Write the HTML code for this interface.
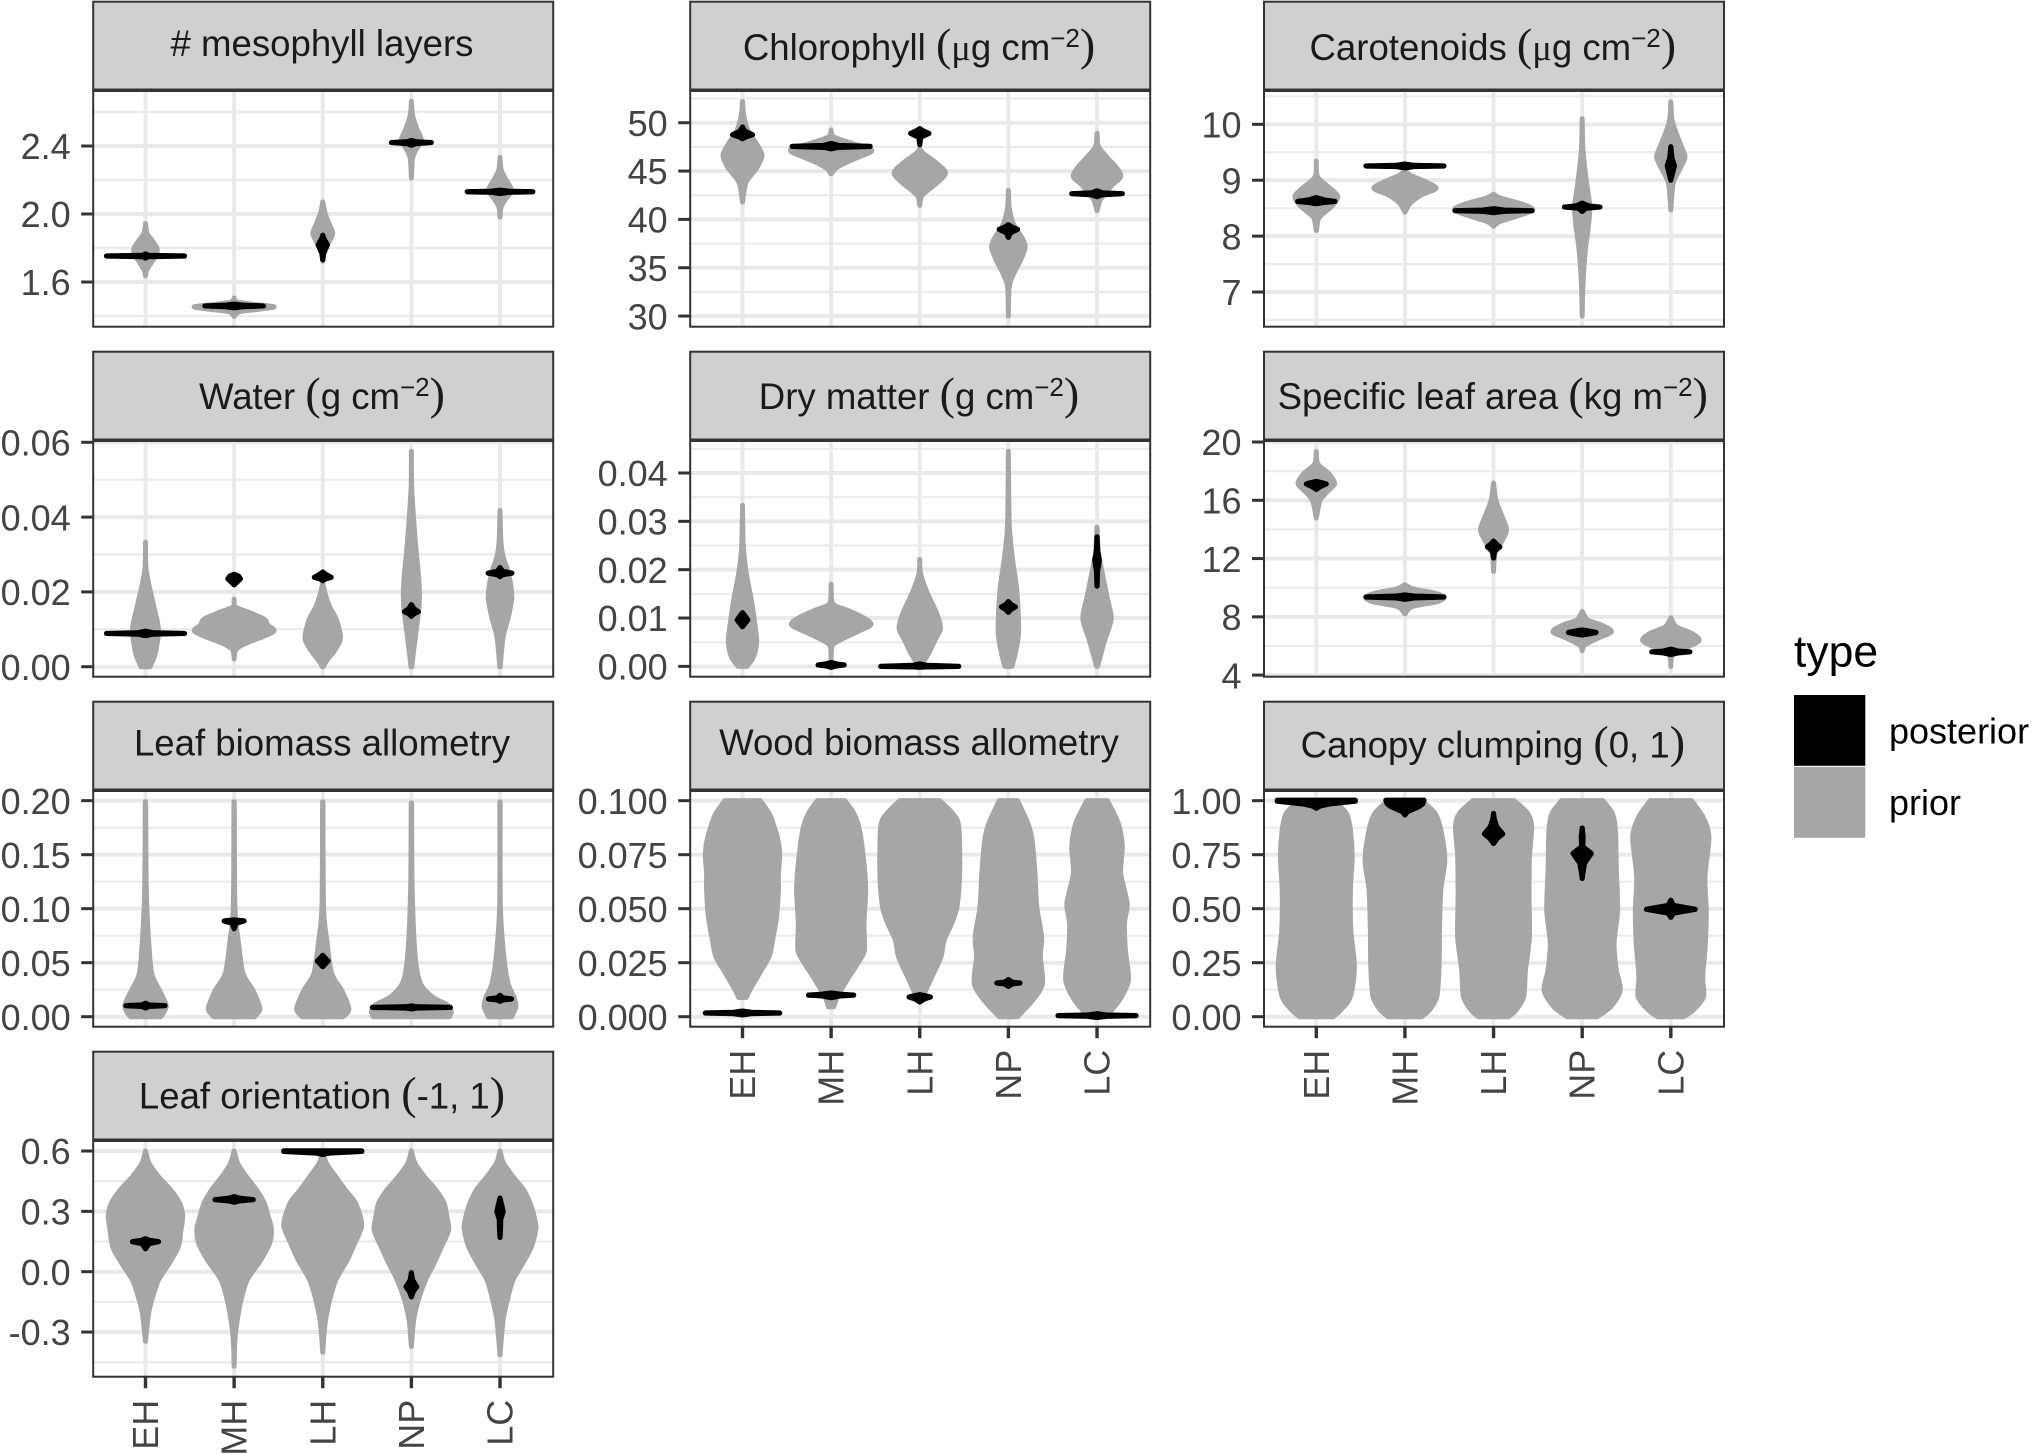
<!DOCTYPE html>
<html lang="en">
<head>
<meta charset="utf-8">
<title>Prior and posterior violins by plant type</title>
<style>
html,body{margin:0;padding:0;background:#fff;width:2032px;height:1454px;overflow:hidden}
svg{display:block;font-family:"Liberation Sans",Arial,sans-serif}
</style>
</head>
<body>
<svg id="chart" xmlns="http://www.w3.org/2000/svg" width="2032" height="1454" viewBox="0 0 2032 1454">
  <g>
    <text transform="translate(1794,666.5)" font-size="44.5" fill="#000">type</text>
    <rect x="1794" y="695" width="71.3" height="70.8" fill="#000"/>
    <rect x="1794" y="767" width="71.3" height="70.8" fill="#a6a6a6"/>
    <text transform="translate(1889,743.5)" font-size="36" fill="#000">posterior</text>
    <text transform="translate(1889,815.2)" font-size="36" fill="#000">prior</text>
  </g>
</svg>
<script>
const categories = ['EH','MH','LH','NP','LC'];

const mesoDomain = [1.337, 2.7235];
const mesoBreaks = [1.6, 2.0, 2.4];
const mesoLabels = ['1.6','2.0','2.4'];
const mesoPrior = [
  [[1.943,0],[1.886,.017],[1.847,.07],[1.798,.13],[1.76,.12],[1.71,.06],[1.671,.015],[1.637,0]],
  [[1.506,0],[1.484,.03],[1.469,.2],[1.455,.45],[1.441,.3],[1.425,.06],[1.398,0]],
  [[2.071,0],[2.004,.026],[1.945,.07],[1.886,.112],[1.837,.07],[1.788,.013],[1.722,0]],
  [[2.663,0],[2.582,.013],[2.504,.06],[2.435,.112],[2.376,.05],[2.327,.013],[2.212,0]],
  [[2.333,0],[2.259,.013],[2.2,.07],[2.141,.13],[2.092,.07],[2.043,.013],[1.982,0]]
];
const mesoPosterior = [
  [[1.765,0],[1.757,.03],[1.753,.44],[1.749,.03],[1.741,0]],
  [[1.47,0],[1.463,.1],[1.459,.33],[1.455,.1],[1.448,0]],
  [[1.875,0],[1.857,.01],[1.818,.052],[1.769,.01],[1.731,0]],
  [[2.432,0],[2.425,.05],[2.42,.224],[2.414,.05],[2.404,0]],
  [[2.14,0],[2.134,.1],[2.131,.37],[2.128,.1],[2.12,0]]
];

const chlDomain = [28.9, 53.28];
const chlBreaks = [30, 35, 40, 45, 50];
const chlLabels = ['30','35','40','45','50'];
const chlPrior = [
  [[52.2,0],[50.8,.013],[49.24,.06],[47.86,.155],[46.65,.22],[45.45,.17],[44.76,.112],[43.72,.035],[41.8,0]],
  [[49.24,0],[48.55,.026],[47.86,.233],[47.34,.43],[47,.45],[46.48,.32],[45.79,.147],[45.28,.05],[44.72,0]],
  [[47.28,0],[46.83,.04],[45.8,.19],[44.83,.29],[43.9,.21],[42.86,.07],[42.34,.017],[41.45,0]],
  [[43,0],[40.97,.013],[39.24,.07],[38.2,.147],[37.17,.19],[35.8,.138],[34.4,.06],[33,.009],[30,0]],
  [[48.9,0],[47.52,.017],[46.3,.125],[45.28,.224],[44.41,.267],[43.55,.17],[42.69,.095],[42,.035],[40.9,0]]
];
const chlPosterior = [
  [[49.55,0],[49.1,.03],[48.76,.112],[48.5,.03],[48.34,0]],
  [[47.85,0],[47.65,.08],[47.55,.44],[47.45,.08],[47.3,0]],
  [[49.38,0],[49.15,.04],[48.9,.103],[48.5,.01],[47.72,0]],
  [[39.45,0],[39.2,.04],[38.97,.103],[38.6,.02],[38.14,0]],
  [[42.95,0],[42.75,.06],[42.66,.285],[42.55,.06],[42.35,0]]
];

const carDomain = [6.38, 10.596];
const carBreaks = [7, 8, 9, 10];
const carLabels = ['7','8','9','10'];
const carPrior = [
  [[9.34,0],[9.06,.013],[8.88,.138],[8.72,.24],[8.56,.19],[8.41,.082],[8.32,.026],[8.1,0]],
  [[9.18,0],[9.09,.06],[8.97,.233],[8.855,.35],[8.74,.19],[8.59,.06],[8.43,0]],
  [[8.75,0],[8.68,.08],[8.575,.32],[8.47,.44],[8.35,.25],[8.26,.07],[8.18,0]],
  [[10.1,0],[9.54,.009],[8.94,.05],[8.53,.086],[8.17,.07],[7.75,.035],[7.16,.009],[6.57,0]],
  [[10.4,0],[10.08,.013],[9.84,.06],[9.6,.12],[9.41,.16],[9.18,.095],[8.94,.026],[8.47,0]]
];
const carPosterior = [
  [[8.69,0],[8.65,.08],[8.62,.21],[8.6,.08],[8.58,0]],
  [[9.29,0],[9.265,.1],[9.255,.44],[9.245,.1],[9.22,0]],
  [[8.49,0],[8.465,.12],[8.455,.435],[8.445,.12],[8.42,0]],
  [[8.59,0],[8.54,.07],[8.52,.2],[8.5,.04],[8.44,0]],
  [[9.6,0],[9.4,.012],[9.26,.04],[9.1,.015],[9.0,0]]
];

const watDomain = [-.00267, .06035];
const watBreaks = [0, .02, .04, .06];
const watLabels = ['0.00','0.02','0.04','0.06'];
const watPrior = [
  [[.0333,0],[.0267,.004],[.0223,.035],[.016,.095],[.0116,.138],[.0089,.147],[.0053,.125],[.0027,.1],[0,.05]],
  [[.018,0],[.016,.013],[.0147,.147],[.0127,.34],[.0111,.38],[.0096,.45],[.008,.32],[.0062,.125],[.0045,.017],[.0021,0]],
  [[.0223,0],[.0196,.026],[.016,.078],[.0125,.155],[.0076,.2],[.0045,.138],[.0018,.05],[0,.005]],
  [[.0576,0],[.0474,.004],[.0339,.043],[.025,.078],[.0205,.09],[.016,.086],[.0089,.05],[.0027,.017],[0,.005]],
  [[.0418,0],[.0339,.009],[.0294,.035],[.025,.095],[.0187,.133],[.0134,.095],[.008,.035],[0,.002]]
];
const watPosterior = [
  [[.0095,0],[.0091,.08],[.0089,.44],[.0087,.08],[.0083,0]],
  [[.0247,0],[.0242,.05],[.0235,.07],[.0228,.04],[.0219,0]],
  [[.0253,0],[.0246,.04],[.0239,.095],[.0235,.03],[.023,0]],
  [[.0166,0],[.0155,.03],[.0147,.078],[.0142,.03],[.0135,0]],
  [[.0265,0],[.0255,.03],[.025,.133],[.0246,.03],[.0241,0]]
];

const dryDomain = [-.00214, .04662];
const dryBreaks = [0, .01, .02, .03, .04];
const dryLabels = ['0.00','0.01','0.02','0.03','0.04'];
const dryPrior = [
  [[.0333,0],[.0248,.009],[.0192,.043],[.0137,.1],[.0089,.138],[.0051,.16],[.002,.125],[0,.05]],
  [[.017,0],[.013,.017],[.0117,.17],[.0103,.34],[.0087,.45],[.0072,.3],[.0054,.095],[.0041,.009],[.0003,0]],
  [[.0221,0],[.0192,.009],[.0151,.086],[.011,.19],[.0079,.233],[.0054,.17],[.0027,.1],[0,.01]],
  [[.0445,0],[.0296,.009],[.0227,.043],[.0158,.095],[.0075,.116],[.0034,.086],[0,.04]],
  [[.0288,0],[.0234,.017],[.0192,.06],[.0144,.112],[.0099,.16],[.0054,.086],[.002,.035],[0,.005]]
];
const dryPosterior = [
  [[.0111,0],[.0104,.03],[.0096,.06],[.0089,.03],[.0082,0]],
  [[.0008,0],[.0005,.06],[.0003,.147],[.0001,.06],[-.0002,0]],
  [[.0005,0],[.0002,.08],[0,.44],[-.0001,.08],[-.0002,0]],
  [[.0134,0],[.0128,.03],[.0123,.078],[.0118,.03],[.0112,0]],
  [[.0268,0],[.024,.006],[.022,.026],[.0195,.005],[.0166,0]]
];

const slaDomain = [3.89, 20.07];
const slaBreaks = [4, 8, 12, 16, 20];
const slaLabels = ['4','8','12','16','20'];
const slaPrior = [
  [[19.36,0],[18.5,.017],[17.85,.138],[17.16,.207],[16.6,.125],[16,.043],[14.78,0]],
  [[10.2,0],[9.9,.1],[9.62,.34],[9.34,.44],[9.04,.36],[8.7,.08],[8.2,0]],
  [[17.19,0],[16.02,.026],[15.1,.082],[14,.147],[13.27,.1],[12.36,.017],[11.12,0]],
  [[8.38,0],[7.78,.06],[7.46,.21],[6.98,.33],[6.52,.17],[6.06,.026],[5.67,0]],
  [[7.94,0],[7.32,.06],[6.87,.233],[6.41,.32],[6.06,.233],[5.72,.08],[5.24,.009],[4.6,0]]
];
const slaPosterior = [
  [[17.3,0],[17.18,.08],[17.12,.112],[16.95,.05],[16.75,0]],
  [[9.5,0],[9.42,.1],[9.36,.44],[9.3,.1],[9.2,0]],
  [[13.2,0],[13,.03],[12.8,.07],[12.5,.01],[12.04,0]],
  [[7.1,0],[7.0,.1],[6.93,.155],[6.85,.1],[6.75,0]],
  [[5.78,0],[5.65,.08],[5.6,.215],[5.52,.08],[5.42,0]]
];

const leafDomain = [-.00926, .20895];
const leafBreaks = [0, .05, .10, .15, .20];
const leafLabels = ['0.00','0.05','0.10','0.15','0.20'];
const leafPrior = [
  [[.199,.002],[.117,.009],[.071,.035],[.04,.07],[.0247,.155],[.0108,.233],[.0031,.2],[0,.17]],
  [[.199,.002],[.102,.009],[.068,.05],[.04,.1],[.0247,.21],[.0123,.276],[.0062,.29],[0,.23]],
  [[.199,.002],[.102,.009],[.068,.05],[.04,.1],[.0247,.21],[.0093,.29],[.0046,.285],[0,.23]],
  [[.198,.002],[.117,.009],[.0556,.043],[.031,.1],[.0185,.233],[.0108,.405],[.0046,.45],[0,.43]],
  [[.199,.002],[.102,.004],[.056,.043],[.031,.09],[.0185,.155],[.0093,.18],[0,.13]]
];
const leafPosterior = [
  [[.0125,0],[.0108,.04],[.0102,.22],[.0095,.04],[.008,0]],
  [[.0895,0],[.089,.08],[.0886,.112],[.0865,.02],[.0815,0]],
  [[.0568,0],[.054,.03],[.0515,.06],[.049,.03],[.0463,0]],
  [[.01,0],[.0092,.06],[.0086,.44],[.008,.06],[.0072,0]],
  [[.0198,0],[.0175,.03],[.0164,.13],[.0155,.03],[.0142,0]]
];

const woodDomain = [-.00463, .10448];
const woodBreaks = [0, .025, .05, .075, .10];
const woodLabels = ['0.000','0.025','0.050','0.075','0.100'];
const woodPrior = [
  [[.1,.2],[.0941,.3],[.0895,.345],[.0818,.4],[.0748,.42],[.0664,.405],[.0586,.405],[.0463,.385],[.0355,.34],[.0278,.3],[.02,.19],[.0123,.082],[.0089,.043]],
  [[.1,.155],[.0941,.255],[.0864,.32],[.071,.37],[.0586,.39],[.0432,.37],[.0309,.375],[.0247,.3],[.017,.18],[.0093,.07],[.0046,.03]],
  [[.1,.224],[.0941,.37],[.088,.44],[.0664,.45],[.0509,.42],[.0432,.36],[.0355,.276],[.0278,.24],[.02,.155],[.0116,.06],[.0095,.04]],
  [[.1,.103],[.0895,.22],[.0818,.267],[.0664,.3],[.0509,.32],[.037,.375],[.0278,.36],[.0154,.385],[.0077,.276],[0,.103]],
  [[.1,.116],[.0895,.24],[.0787,.285],[.0664,.267],[.0525,.34],[.0432,.31],[.0309,.32],[.017,.354],[.0077,.254],[0,.095]]
];
const woodPosterior = [
  [[.0026,0],[.002,.1],[.0017,.42],[.0014,.1],[.0008,0]],
  [[.011,0],[.0104,.1],[.01,.254],[.0096,.1],[.0088,0]],
  [[.0102,0],[.0095,.08],[.0091,.12],[.0082,.05],[.0068,0]],
  [[.0172,0],[.016,.04],[.0156,.13],[.0152,.04],[.014,0]],
  [[.0014,0],[.0008,.1],[.0005,.44],[.0002,.1],[-.0004,0]]
];

const canDomain = [-.0463, 1.0448];
const canBreaks = [0, .25, .5, .75, 1];
const canLabels = ['0.00','0.25','0.50','0.75','1.00'];
const canPrior = [
  [[1,.2],[.941,.34],[.864,.385],[.741,.405],[.586,.385],[.401,.39],[.231,.43],[.093,.385],[.031,.276],[0,.19]],
  [[1,.19],[.941,.34],[.864,.405],[.725,.45],[.586,.405],[.401,.39],[.231,.385],[.093,.36],[.031,.276],[0,.19]],
  [[1,.233],[.941,.385],[.88,.43],[.741,.405],[.556,.4],[.37,.405],[.216,.36],[.093,.34],[.031,.254],[0,.17]],
  [[1,.233],[.941,.34],[.864,.375],[.68,.385],[.494,.4],[.34,.36],[.216,.385],[.123,.43],[.046,.32],[0,.17]],
  [[1,.233],[.926,.36],[.833,.43],[.648,.385],[.494,.4],[.34,.39],[.185,.36],[.093,.37],[.031,.254],[0,.147]]
];
const canPosterior = [
  [[1.002,.44],[.998,.44],[.985,.147],[.975,.04],[.965,0]],
  [[1.002,.215],[.985,.2],[.972,.155],[.949,.026],[.934,0]],
  [[.941,0],[.918,.006],[.88,.035],[.846,.103],[.825,.04],[.802,0]],
  [[.873,0],[.833,.01],[.787,.006],[.756,.103],[.71,.026],[.66,.006],[.64,0]],
  [[.539,0],[.515,.03],[.497,.275],[.48,.03],[.46,0]]
];

const oriDomain = [-.522, .6497];
const oriBreaks = [-.3, 0, .3, .6];
const oriLabels = ['-0.3','0.0','0.3','0.6'];
const oriPrior = [
  [[.6,0],[.539,.04],[.472,.147],[.406,.285],[.34,.385],[.277,.42],[.207,.4],[.124,.37],[.041,.267],[-.041,.147],[-.124,.082],[-.207,.035],[-.346,0]],
  [[.6,0],[.539,.04],[.472,.138],[.406,.254],[.34,.34],[.273,.385],[.215,.42],[.141,.4],[.058,.3],[-.041,.147],[-.141,.078],[-.24,.035],[-.34,.009],[-.47,0]],
  [[.6,0],[.539,.04],[.472,.147],[.406,.254],[.34,.37],[.232,.44],[.141,.36],[.058,.276],[-.041,.147],[-.141,.078],[-.257,.026],[-.4,0]],
  [[.6,0],[.539,.04],[.472,.147],[.406,.276],[.34,.37],[.273,.4],[.207,.42],[.124,.34],[.041,.254],[-.041,.16],[-.141,.078],[-.24,.026],[-.371,0]],
  [[.6,0],[.539,.04],[.472,.147],[.406,.267],[.34,.34],[.273,.385],[.215,.405],[.124,.354],[.041,.254],[-.041,.147],[-.141,.082],[-.24,.035],[-.413,0]]
];
const oriPosterior = [
  [[.164,0],[.155,.05],[.149,.147],[.14,.04],[.114,0]],
  [[.373,0],[.365,.06],[.358,.215],[.352,.06],[.345,0]],
  [[.601,.44],[.598,.44],[.59,.08],[.583,0]],
  [[-.005,0],[-.042,.013],[-.075,.06],[-.1,.02],[-.125,0]],
  [[.366,0],[.33,.02],[.298,.035],[.26,.008],[.223,.006],[.17,0]]
];

const panels = [
  {key:'mesophyll-layers', row:0, col:0, title:[['# mesophyll layers','t']], titleY:56, domain:mesoDomain, breaks:mesoBreaks, labels:mesoLabels, prior:mesoPrior, post:mesoPosterior},
  {key:'chlorophyll', row:0, col:1, title:[['Chlorophyll ','t'],['(','p'],['μ','m'],['g cm','t'],['−2','s'],[')','p']], titleY:60, domain:chlDomain, breaks:chlBreaks, labels:chlLabels, prior:chlPrior, post:chlPosterior},
  {key:'carotenoids', row:0, col:2, title:[['Carotenoids ','t'],['(','p'],['μ','m'],['g cm','t'],['−2','s'],[')','p']], titleY:60, domain:carDomain, breaks:carBreaks, labels:carLabels, prior:carPrior, post:carPosterior},
  {key:'water', row:1, col:0, title:[['Water ','t'],['(','p'],['g cm','t'],['−2','s'],[')','p']], titleY:409, domain:watDomain, breaks:watBreaks, labels:watLabels, prior:watPrior, post:watPosterior},
  {key:'dry-matter', row:1, col:1, title:[['Dry matter ','t'],['(','p'],['g cm','t'],['−2','s'],[')','p']], titleY:409, domain:dryDomain, breaks:dryBreaks, labels:dryLabels, prior:dryPrior, post:dryPosterior},
  {key:'specific-leaf-area', row:1, col:2, title:[['Specific leaf area ','t'],['(','p'],['kg m','t'],['−2','s'],[')','p']], titleY:409, domain:slaDomain, breaks:slaBreaks, labels:slaLabels, prior:slaPrior, post:slaPosterior},
  {key:'leaf-biomass-allometry', row:2, col:0, title:[['Leaf biomass allometry','t']], titleY:755.7, domain:leafDomain, breaks:leafBreaks, labels:leafLabels, prior:leafPrior, post:leafPosterior},
  {key:'wood-biomass-allometry', row:2, col:1, xAxis:true, title:[['Wood biomass allometry','t']], titleY:755, domain:woodDomain, breaks:woodBreaks, labels:woodLabels, prior:woodPrior, post:woodPosterior},
  {key:'canopy-clumping', row:2, col:2, xAxis:true, title:[['Canopy clumping ','t'],['(','p'],['0, 1','t'],[')','p']], titleY:757.5, domain:canDomain, breaks:canBreaks, labels:canLabels, prior:canPrior, post:canPosterior},
  {key:'leaf-orientation', row:3, col:0, xAxis:true, title:[['Leaf orientation ','t'],['(','p'],['-1, 1','t'],[')','p']], titleY:1108.3, domain:oriDomain, breaks:oriBreaks, labels:oriLabels, prior:oriPrior, post:oriPosterior}
];

const colLeft = [93.2, 690.2, 1264];
const rowTop = [1.7, 351.7, 701.7, 1051.7];
const panelWidth = 460;
const stripHeight = 87.8;
const plotTopOffset = 89.3;
const plotHeight = 235.7;
const xDomain = [.41, 5.6];
const SVGNS = 'http://www.w3.org/2000/svg';
const svg = document.getElementById('chart');
const legendNode = svg.firstElementChild;

function make(tag, parent) {
  const el = document.createElementNS(SVGNS, tag);
  parent.appendChild(el);
  return el;
}
function line(parent, x1, y1, x2, y2, color, width) {
  const el = make('line', parent);
  el.setAttribute('x1', x1);
  el.setAttribute('y1', y1);
  el.setAttribute('x2', x2);
  el.setAttribute('y2', y2);
  el.setAttribute('stroke', color);
  el.setAttribute('stroke-width', width);
  return el;
}
function smoothSide(pts) {
  let d = '';
  for (let i = 0; i < pts.length - 1; i++) {
    const p0 = pts[Math.max(i - 1, 0)], p1 = pts[i], p2 = pts[i + 1], p3 = pts[Math.min(i + 2, pts.length - 1)];
    const c1 = [p1[0] + (p2[0] - p0[0]) / 7, p1[1] + (p2[1] - p0[1]) / 7];
    const c2 = [p2[0] - (p3[0] - p1[0]) / 7, p2[1] - (p3[1] - p1[1]) / 7];
    d += 'C' + c1[0].toFixed(2) + ' ' + c1[1].toFixed(2) + ' ' + c2[0].toFixed(2) + ' ' + c2[1].toFixed(2) + ' ' + p2[0].toFixed(2) + ' ' + p2[1].toFixed(2);
  }
  return d;
}
function violinPath(profile, index, xScale, yScale, smooth) {
  const left = profile.map(function (p) { return [xScale(index + 1 - p[1]), yScale(p[0])]; });
  const right = profile.map(function (p) { return [xScale(index + 1 + p[1]), yScale(p[0])]; }).reverse();
  if (smooth) {
    return 'M' + left[0][0].toFixed(2) + ' ' + left[0][1].toFixed(2) + smoothSide(left) +
      'L' + right[0][0].toFixed(2) + ' ' + right[0][1].toFixed(2) + smoothSide(right) + 'Z';
  }
  return 'M' + left.concat(right).map(function (p) { return p[0].toFixed(2) + ' ' + p[1].toFixed(2); }).join('L') + 'Z';
}

panels.forEach(function (panel) {
  const left = colLeft[panel.col];
  const right = left + panelWidth;
  const stripTop = rowTop[panel.row];
  const plotTop = stripTop + plotTopOffset;
  const plotBottom = plotTop + plotHeight;
  const xScale = function (u) { return left + (u - xDomain[0]) / (xDomain[1] - xDomain[0]) * panelWidth; };
  const yScale = function (v) { return plotBottom - (v - panel.domain[0]) / (panel.domain[1] - panel.domain[0]) * plotHeight; };

  const g = make('g', svg);
  
  
  svg.insertBefore(g, legendNode);

  const step = panel.breaks[1] - panel.breaks[0];
  const minors = [];
  for (let v = panel.breaks[0] - step / 2; v < panel.domain[1]; v += step) {
    if (v > panel.domain[0]) minors.push(v);
  }
  minors.forEach(function (v) {
    const gridMinor = line(g, left, yScale(v), right, yScale(v), '#ebebeb', 2.2);
    
    
  });
  panel.breaks.forEach(function (v) {
    const gridMajor = line(g, left, yScale(v), right, yScale(v), '#e9e9e9', 4);
    
    
  });
  categories.forEach(function (c, i) {
    const gridV = line(g, xScale(i + 1), plotTop, xScale(i + 1), plotBottom, '#e9e9e9', 3.9);
    
    
  });

  panel.prior.forEach(function (profile, i) {
    const violin = make('path', g);
    
    
    violin.setAttribute('d', violinPath(profile, i, xScale, yScale, true));
    violin.setAttribute('fill', '#a6a6a6');
    violin.setAttribute('stroke', '#a6a6a6');
    violin.setAttribute('stroke-width', '5');
    violin.setAttribute('stroke-linejoin', 'round');
  });
  panel.post.forEach(function (profile, i) {
    const violin = make('path', g);
    
    
    violin.setAttribute('d', violinPath(profile, i, xScale, yScale, false));
    violin.setAttribute('fill', '#000');
    violin.setAttribute('stroke', '#000');
    violin.setAttribute('stroke-width', '5.2');
    violin.setAttribute('stroke-linejoin', 'round');
  });

  const border = make('rect', g);
  
  
  border.setAttribute('x', left);
  border.setAttribute('y', plotTop);
  border.setAttribute('width', panelWidth);
  border.setAttribute('height', plotHeight);
  border.setAttribute('fill', 'none');
  border.setAttribute('stroke', '#333');
  border.setAttribute('stroke-width', '2');

  const strip = make('rect', g);
  
  
  strip.setAttribute('x', left);
  strip.setAttribute('y', stripTop);
  strip.setAttribute('width', panelWidth);
  strip.setAttribute('height', stripHeight);
  strip.setAttribute('fill', '#d0d0d0');
  strip.setAttribute('stroke', '#333');
  strip.setAttribute('stroke-width', '2');

  const title = make('text', g);
  
  
  title.setAttribute('transform', 'translate(' + (left + panelWidth / 2 - 1.2) + ',' + panel.titleY + ')');
  title.setAttribute('text-anchor', 'middle');
  title.setAttribute('fill', '#1a1a1a');
  title.setAttribute('font-size', '36.6');
  title.setAttribute('xml:space', 'preserve');
  let raised = false;
  panel.title.forEach(function (part) {
    const span = make('tspan', title);
    span.textContent = part[0];
    if (part[1] === 'p') {
      span.setAttribute('font-family', '"Liberation Serif", serif');
      span.setAttribute('font-size', '46');
      if (raised) { span.setAttribute('dy', '13'); raised = false; }
    } else if (part[1] === 'm') {
      span.setAttribute('font-family', '"Liberation Serif", serif');
    } else if (part[1] === 's') {
      span.setAttribute('font-size', '26');
      span.setAttribute('dy', '-13');
      raised = true;
    }
  });

  panel.breaks.forEach(function (v, i) {
    const tick = line(g, left - 12, yScale(v), left, yScale(v), '#333', 3);
    
    
    const label = make('text', g);
    
    
    label.setAttribute('transform', 'translate(' + (left - 22.5) + ',' + (yScale(v) + 13.2) + ')');
    label.setAttribute('text-anchor', 'end');
    label.setAttribute('font-size', '36');
    label.setAttribute('fill', '#444');
    label.textContent = panel.labels[i];
  });

  if (panel.xAxis) {
    categories.forEach(function (c, i) {
      const tick = line(g, xScale(i + 1), plotBottom, xScale(i + 1), plotBottom + 11.5, '#333', 3.4);
      
      
      const label = make('text', g);
      
      
      label.setAttribute('transform', 'translate(' + (xScale(i + 1) + 12.5) + ',' + (plotBottom + 23) + ') rotate(-90)');
      label.setAttribute('text-anchor', 'end');
      label.setAttribute('font-size', '36');
      label.setAttribute('fill', '#444');
      label.textContent = c;
    });
  }
});
</script>
</body>
</html>
